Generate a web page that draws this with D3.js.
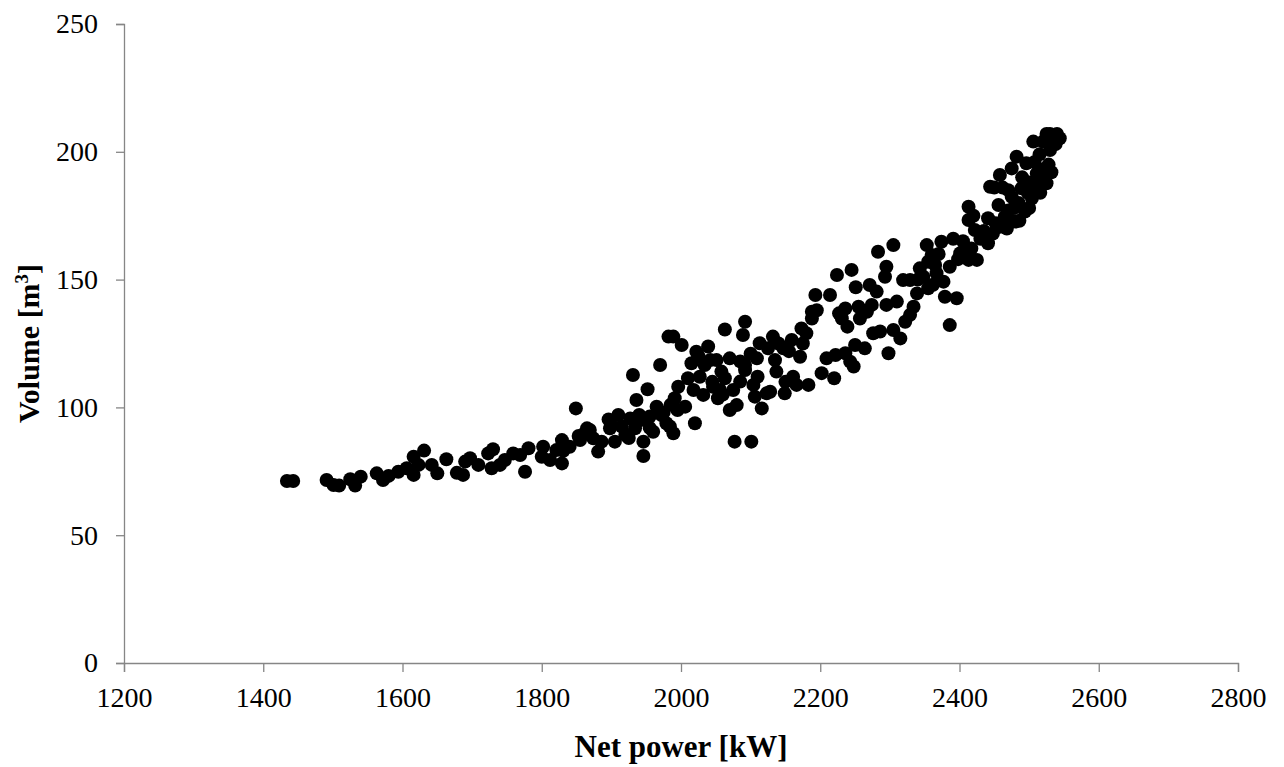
<!DOCTYPE html>
<html>
<head>
<meta charset="utf-8">
<script src="https://cdn.jsdelivr.net/npm/d3@7"></script>
<style>
  body { margin: 0; background: #fff; }
</style>
</head>
<body>
<div id="g1"></div>
<script>
// net power [kW] and volume [m3]
var netPower = [1434,1443,1491,1501,1509,1525,1532,1540,1563,1572,1580,1594,1606,1616,1616,1623,1631,1642,1650,1663,
  1678,1690,1687,1697,1709,1723,1730,1728,1740,1747,1759,1769,1776,1781,1802,1800,1812,1821,1829,1829,
  1840,1849,1862,1855,1869,1831,1853,1865,1874,1881,1886,1896,1898,1905,1910,1915,1920,1927,1931,1934,
  1936,1943,1946,1946,1952,1955,1960,1965,1970,1972,1979,1982,1989,1991,1989,1984,1996,2001,2006,2010,
  2015,2018,2020,2022,2027,2032,2034,2039,2042,2046,2051,2053,2056,2058,2063,2063,2070,2070,2075,2077,
  2080,2085,2089,2092,2092,2092,2101,2104,2106,2109,2113,2116,2123,2125,2132,2135,2137,2128,2147,2149,
  2159,2161,2166,2171,2173,2180,2183,2188,2188,2193,2202,2209,2214,2220,2222,2224,2227,2231,2236,2236,
  2239,2243,2245,2248,2250,2251,2255,2257,2264,2267,2271,2274,2276,2281,2283,2286,2293,2295,2295,2298,
  2305,2305,2310,2315,2319,2322,2329,2329,2334,2339,2343,2348,2353,2355,2360,2365,2367,2374,2377,2379,
  2386,2386,2391,2396,2401,2413,2415,2425,2413,2413,2422,2417,2441,2441,2444,2458,2456,2458,2465,2475,
  2475,2480,2482,2489,2494,2496,2504,2506,2511,2513,2525,2530,2535,2544,2450,2462,2470,2485,2490,2500,
  2508,2515,2518,2520,2525,2530,2538,2540,2528,2522,2532,2498,2470,2435,2430,2448,2452,2468,2478,2486,
  2500,2510,2516,2025,2045,2060,2085,2100,2110,2140,2150,2155,2175,2195,1900,1925,1940,1955,1975,1985,
  1995,2340,2362,2355,2370,2398,2405,2420];
var volume = [71.2,71.2,71.6,69.6,69.4,71.9,69.4,72.9,74.2,71.6,73.2,74.8,76.2,80.7,73.6,77.5,83.1,77.5,74.2,79.7,
  74.4,78.8,73.6,80.1,77.5,82.0,83.6,76.2,77.5,79.4,82.0,81.4,74.8,84.0,84.6,80.7,79.4,83.3,87.2,78.1,
  84.6,99.6,89.9,87.2,91.2,83.0,88.8,91.8,87.9,82.7,86.6,95.3,91.8,86.6,97.0,92.5,89.2,95.7,112.7,91.8,
  102.9,95.1,86.6,81.0,107.1,96.4,90.5,100.3,116.6,97.0,93.8,127.7,127.7,103.6,89.9,92.5,108.1,124.4,100.3,111.4,
  117.3,106.8,93.8,121.8,112.0,104.9,116.6,123.8,118.5,108.1,118.5,103.6,106.8,114.0,130.5,111.4,119.2,99.0,106.8,86.6,
  100.9,110.1,128.3,133.5,116.6,114.6,86.6,108.8,104.2,119.2,125.1,99.6,105.5,123.1,127.7,118.5,114.0,106.1,123.1,105.5,
  126.4,112.0,108.8,119.8,130.9,129.0,108.8,137.4,134.8,144.0,113.4,119.2,144.0,111.4,120.5,151.8,136.8,134.8,121.2,138.7,
  131.6,117.9,153.8,116.0,124.4,147.0,139.4,134.8,123.1,137.4,147.9,140.1,129.0,145.3,160.9,129.7,151.1,155.0,140.1,121.2,
  163.5,130.3,141.4,127.0,149.8,133.5,149.8,136.2,139.4,144.6,154.4,151.1,163.5,146.6,159.6,155.7,152.5,164.8,149.2,143.3,
  155.0,132.2,166.0,142.7,160.3,157.7,161.6,157.7,178.5,173.3,169.4,162.2,174.0,164.2,186.3,190.9,179.2,170.7,174.6,193.5,
  182.4,172.7,198.1,185.7,176.6,195.5,181.8,204.0,191.5,187.0,187.7,200.7,206.0,205.3,186,186,177,180,190,188,
  196,199,193,204,207,207,203,207,195,190,192,184,185,169,166,168,172,170,178,173,
  178,185,184,120,110,105,118,121,112,125,110,122,125,138,93,88,97,92,98,101,
  99,150,148,157,160,158,165,175];

var xTicks = [1200,1400,1600,1800,2000,2200,2400,2600,2800];
var yTicks = [0,50,100,150,200,250];

var w = 1284, h = 767;
var margin = {top: 24, right: 46, bottom: 104, left: 124};
var serif = "'Liberation Serif', 'Times New Roman', serif";

var svg = d3.select("#g1").append("svg").attr("width", w).attr("height", h);

var x = d3.scaleLinear().domain([1200, 2800]).range([margin.left, w - margin.right]);
var y = d3.scaleLinear().domain([0, 250]).range([h - margin.bottom, margin.top]);

var axisColor = "#868686";

var xAxis = svg.append("g")
    .attr("transform", "translate(0," + (h - margin.bottom) + ")")
    .call(d3.axisBottom(x).tickValues(xTicks).tickSize(9).tickPadding(15).tickFormat(d3.format("d")));
var yAxis = svg.append("g")
    .attr("transform", "translate(" + margin.left + ",0)")
    .call(d3.axisLeft(y).tickValues(yTicks).tickSize(8).tickPadding(18));

[xAxis, yAxis].forEach(function(a) {
  a.attr("font-family", serif).attr("font-size", 28);
  a.select(".domain").attr("stroke", axisColor).attr("stroke-width", 1.3);
  a.selectAll(".tick line").attr("stroke", axisColor).attr("stroke-width", 1.3);
  a.selectAll(".tick text").attr("fill", "#000");
});

var pts = netPower.map(function(d, i) { return [d, volume[i]]; });

svg.append("g").selectAll("circle")
    .data(pts)
    .enter().append("circle")
    .attr("cx", function(d) { return x(d[0]); })
    .attr("cy", function(d) { return y(d[1]); })
    .attr("r", 7)
    .style("fill", "#000");

// axis titles
svg.append("text")
    .attr("x", (x.range()[0] + x.range()[1]) / 2)
    .attr("y", 757)
    .attr("text-anchor", "middle")
    .attr("font-family", serif)
    .attr("font-size", 31).attr("font-weight", "bold")
    .text("Net power [kW]");

var yt = svg.append("text")
    .attr("transform", "translate(39," + (y(100) + y(150)) / 2 + ") rotate(-90)")
    .attr("text-anchor", "middle")
    .attr("font-family", serif)
    .attr("font-size", 30).attr("font-weight", "bold");
yt.append("tspan").text("Volume [m");
yt.append("tspan").attr("dy", -11).attr("font-size", 19).text("3");
yt.append("tspan").attr("dy", 11).text("]");
</script>
</body>
</html>
